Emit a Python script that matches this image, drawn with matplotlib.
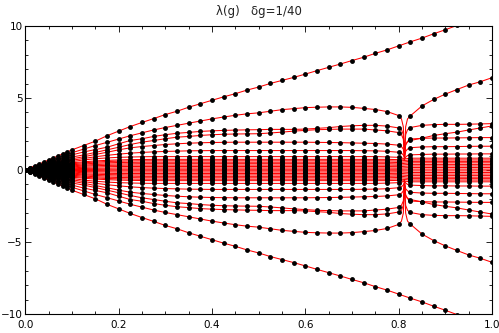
import matplotlib
matplotlib.use("Agg")
import matplotlib.pyplot as plt
from matplotlib.ticker import MultipleLocator

# sample points of g (dots); spacing 0.01 up to 0.1, then 1/40
g_values = [0, 0.01, 0.02, 0.03, 0.04, 0.05, 0.06, 0.07, 0.08, 0.09, 0.10,
            0.125, 0.15, 0.175, 0.2, 0.225, 0.25, 0.275, 0.3, 0.325, 0.35,
            0.375, 0.4, 0.425, 0.45, 0.475, 0.5, 0.525, 0.55, 0.575, 0.6,
            0.625, 0.65, 0.675, 0.7, 0.725, 0.75, 0.775, 0.8, 0.825, 0.85,
            0.875, 0.9, 0.925, 0.95, 0.975, 1.0]

# positive eigenvalue branches (spectrum is symmetric: -λ also present)
c1 = [0, 0.14, 0.28, 0.42, 0.56, 0.70, 0.84, 0.98, 1.12, 1.26, 1.40,
      1.70, 2.00, 2.38, 2.70, 3.02, 3.30, 3.57, 3.85, 4.08, 4.36, 4.60, 4.84,
      5.08, 5.30, 5.55, 5.76, 6.01, 6.22, 6.43, 6.66, 6.90, 7.13, 7.36, 7.60,
      7.83, 8.10, 8.34, 8.62, 8.90, 9.16, 9.46, 9.74, 10.04, 10.32, 10.60, 10.88]
c2 = [0, 0.12, 0.24, 0.36, 0.48, 0.60, 0.72, 0.84, 0.96, 1.08, 1.20,
      1.45, 1.70, 1.92, 2.15, 2.38, 2.58, 2.78, 2.95, 3.10, 3.25, 3.40, 3.55,
      3.68, 3.80, 3.90, 3.97, 4.08, 4.19, 4.26, 4.33, 4.36, 4.38, 4.38, 4.35,
      4.28, 4.20, 4.06, 3.78, 3.76, 4.45, 4.90, 5.27, 5.59, 5.90, 6.13, 6.41]
c3a = [0, 0.10, 0.21, 0.31, 0.42, 0.52, 0.63, 0.73, 0.84, 0.94, 1.05,
       1.25, 1.42, 1.58, 1.82, 2.05, 2.17, 2.33, 2.45, 2.55, 2.61, 2.68, 2.72,
       2.75, 2.77, 2.79, 2.80, 2.82, 2.82, 2.82, 2.84, 2.89, 2.94, 3.02, 3.07,
       3.10, 3.10, 3.05, 2.92, 2.95, 3.10, 3.15, 3.17, 3.17, 3.18, 3.20, 3.22]
c3b = [0, 0.09, 0.18, 0.27, 0.36, 0.45, 0.54, 0.63, 0.72, 0.81, 0.90,
       1.05, 1.22, 1.40, 1.58, 1.77, 1.93, 2.05, 2.17, 2.28, 2.33, 2.40, 2.45,
       2.48, 2.50, 2.51, 2.52, 2.57, 2.63, 2.70, 2.75, 2.80, 2.82, 2.84, 2.84,
       2.84, 2.78, 2.72, 2.60, 2.05, 2.21, 2.40, 2.52, 2.63, 2.78, 2.92, 3.06]
c4 = [0, 0.08, 0.16, 0.23, 0.31, 0.39, 0.47, 0.55, 0.62, 0.70, 0.78,
      0.92, 1.08, 1.23, 1.40, 1.54, 1.63, 1.70, 1.77, 1.82, 1.86, 1.89, 1.91,
      1.92, 1.93, 1.93, 1.93, 1.93, 1.93, 1.93, 1.93, 1.92, 1.91, 1.90, 1.88,
      1.86, 1.84, 1.80, 1.72, 2.15, 2.20, 2.22, 2.22, 2.23, 2.24, 2.25, 2.25]
c5 = [0, 0.07, 0.14, 0.20, 0.27, 0.34, 0.41, 0.48, 0.54, 0.61, 0.68,
      0.80, 0.92, 1.02, 1.10, 1.17, 1.22, 1.26, 1.29, 1.31, 1.33, 1.34, 1.35,
      1.35, 1.35, 1.35, 1.35, 1.35, 1.35, 1.35, 1.35, 1.35, 1.35, 1.35, 1.35,
      1.34, 1.33, 1.30, 1.23, 1.55, 1.60, 1.62, 1.62, 1.63, 1.64, 1.65, 1.65]
c6 = [0, 0.06, 0.12, 0.17, 0.23, 0.29, 0.35, 0.41, 0.46, 0.52, 0.58,
      0.70, 0.78, 0.84, 0.88, 0.90, 0.92, 0.93, 0.93, 0.93, 0.93, 0.93, 0.93,
      0.93, 0.93, 0.93, 0.93, 0.93, 0.93, 0.93, 0.93, 0.93, 0.93, 0.93, 0.93,
      0.93, 0.93, 0.91, 0.88, 1.05, 1.08, 1.10, 1.10, 1.11, 1.11, 1.12, 1.12]

# dense band of small eigenvalues
b1 = [0, 0.05, 0.10, 0.15, 0.20, 0.25, 0.30, 0.35, 0.40, 0.45, 0.50,
      0.57, 0.63, 0.67, 0.70, 0.72, 0.73, 0.74, 0.74, 0.74, 0.74, 0.74, 0.74,
      0.74, 0.74, 0.74, 0.74, 0.74, 0.74, 0.74, 0.74, 0.74, 0.74, 0.74, 0.74,
      0.74, 0.74, 0.74, 0.72, 0.82, 0.82, 0.82, 0.82, 0.82, 0.82, 0.82, 0.82]
b2 = [0, 0.04, 0.09, 0.13, 0.17, 0.22, 0.26, 0.30, 0.34, 0.39, 0.43,
      0.50, 0.55, 0.59, 0.61, 0.63, 0.64, 0.64, 0.64, 0.64, 0.64, 0.64, 0.64,
      0.64, 0.64, 0.64, 0.64, 0.64, 0.64, 0.64, 0.64, 0.64, 0.64, 0.64, 0.64,
      0.64, 0.64, 0.64, 0.62, 0.70, 0.70, 0.70, 0.70, 0.70, 0.70, 0.70, 0.70]
b3 = [0, 0.04, 0.07, 0.11, 0.14, 0.18, 0.22, 0.25, 0.29, 0.32, 0.36,
      0.42, 0.47, 0.50, 0.52, 0.53, 0.54, 0.54, 0.54, 0.54, 0.54, 0.54, 0.54,
      0.54, 0.54, 0.54, 0.54, 0.54, 0.54, 0.54, 0.54, 0.54, 0.54, 0.54, 0.54,
      0.54, 0.54, 0.54, 0.52, 0.60, 0.60, 0.60, 0.60, 0.60, 0.60, 0.60, 0.60]
b4 = [0, 0.03, 0.06, 0.09, 0.12, 0.15, 0.17, 0.20, 0.23, 0.26, 0.29,
      0.34, 0.38, 0.41, 0.42, 0.43, 0.44, 0.44, 0.44, 0.44, 0.44, 0.44, 0.44,
      0.44, 0.44, 0.44, 0.44, 0.44, 0.44, 0.44, 0.44, 0.44, 0.44, 0.44, 0.44,
      0.44, 0.44, 0.44, 0.42, 0.50, 0.50, 0.50, 0.50, 0.50, 0.50, 0.50, 0.50]
b5 = [0, 0.02, 0.04, 0.07, 0.09, 0.11, 0.13, 0.15, 0.18, 0.20, 0.22,
      0.27, 0.30, 0.32, 0.33, 0.34, 0.34, 0.34, 0.34, 0.34, 0.34, 0.34, 0.34,
      0.34, 0.34, 0.34, 0.34, 0.34, 0.34, 0.34, 0.34, 0.34, 0.34, 0.34, 0.34,
      0.34, 0.34, 0.34, 0.33, 0.39, 0.39, 0.39, 0.39, 0.39, 0.39, 0.39, 0.39]
b6 = [0, 0.02, 0.03, 0.05, 0.06, 0.08, 0.09, 0.11, 0.12, 0.14, 0.15,
      0.19, 0.21, 0.23, 0.24, 0.24, 0.24, 0.24, 0.24, 0.24, 0.24, 0.24, 0.24,
      0.24, 0.24, 0.24, 0.24, 0.24, 0.24, 0.24, 0.24, 0.24, 0.24, 0.24, 0.24,
      0.24, 0.24, 0.24, 0.23, 0.28, 0.28, 0.28, 0.28, 0.28, 0.28, 0.28, 0.28]
b7 = [0, 0.01, 0.02, 0.03, 0.04, 0.05, 0.05, 0.06, 0.07, 0.08, 0.09,
      0.11, 0.12, 0.13, 0.14, 0.14, 0.14, 0.14, 0.14, 0.14, 0.14, 0.14, 0.14,
      0.14, 0.14, 0.14, 0.14, 0.14, 0.14, 0.14, 0.14, 0.14, 0.14, 0.14, 0.14,
      0.14, 0.14, 0.14, 0.13, 0.17, 0.17, 0.17, 0.17, 0.17, 0.17, 0.17, 0.17]
b8 = [0, 0.00, 0.01, 0.01, 0.01, 0.02, 0.02, 0.02, 0.02, 0.03, 0.03,
      0.04, 0.04, 0.05, 0.05, 0.05, 0.05, 0.05, 0.05, 0.05, 0.05, 0.05, 0.05,
      0.05, 0.05, 0.05, 0.05, 0.05, 0.05, 0.05, 0.05, 0.05, 0.05, 0.05, 0.05,
      0.05, 0.05, 0.05, 0.05, 0.06, 0.06, 0.06, 0.06, 0.06, 0.06, 0.06, 0.06]

# the continuous curves near the singular point g ~ 0.8125
cusp_g = [0.806, 0.810, 0.8125, 0.815, 0.819]
cusp_c2 = [3.55, 3.00, 1.00, 3.00, 3.55]
cusp_c3a = [2.80, 2.45, 0.95, 2.45, 2.80]
cusp_c3b = [2.45, 2.15, 0.90, 1.75, 1.95]
cusp_c4 = [1.62, 1.45, 0.85, 1.75, 2.00]
cusp_c5 = [1.16, 1.05, 0.80, 1.30, 1.45]
cusp_c6 = [0.85, 0.80, 0.70, 0.90, 1.00]

title_text = "λ(g)   δg=1/40"
x_ticks = [0.0, 0.2, 0.4, 0.6, 0.8, 1.0]
y_ticks = [-10, -5, 0, 5, 10]

branches = [(c1, None), (c2, cusp_c2), (c3a, cusp_c3a), (c3b, cusp_c3b),
            (c4, cusp_c4), (c5, cusp_c5), (c6, cusp_c6),
            (b1, None), (b2, None), (b3, None), (b4, None),
            (b5, None), (b6, None), (b7, None), (b8, None)]

fig = plt.figure(figsize=(4.99, 3.33), dpi=100)
ax = fig.add_axes([25.3 / 499, 1 - 314 / 333, (492 - 25.3) / 499, (314 - 26) / 333])

for vals, cusp in branches:
    pts = list(zip(g_values, vals))
    if cusp is not None:
        pts += list(zip(cusp_g, cusp))
    pts.sort()
    gx = [p[0] for p in pts]
    gy = [p[1] for p in pts]
    for s in (1, -1):
        ax.plot(gx, [s * v for v in gy], color="#ff0000", lw=0.75, zorder=2)

for vals, cusp in branches:
    for s in (1, -1):
        ax.plot(g_values, [s * v for v in vals], linestyle="none", marker="o",
                markersize=3.5, color="black", markeredgewidth=0, zorder=3)

ax.set_xlim(0, 1.0)
ax.set_ylim(-10, 10)
ax.set_xticks(x_ticks)
ax.set_xticklabels([f"{t:.1f}" for t in x_ticks])
ax.set_yticks(y_ticks)
ax.set_yticklabels([str(t).replace("-", "\u2212") for t in y_ticks])
ax.xaxis.set_minor_locator(MultipleLocator(0.05))
ax.yaxis.set_minor_locator(MultipleLocator(1))
ax.tick_params(which="both", direction="in", top=True, right=True,
               labelsize=7.5, width=0.6)
ax.tick_params(axis="x", which="major", pad=4.5)
ax.tick_params(axis="y", which="major", pad=2)
ax.tick_params(which="major", length=4)
ax.tick_params(which="minor", length=2)
for sp in ax.spines.values():
    sp.set_linewidth(0.8)

fig.text(0.518, 0.966, title_text, ha="center", va="center", fontsize=8.5,
         color="#222222")

fig.savefig("out.png", dpi=100)
